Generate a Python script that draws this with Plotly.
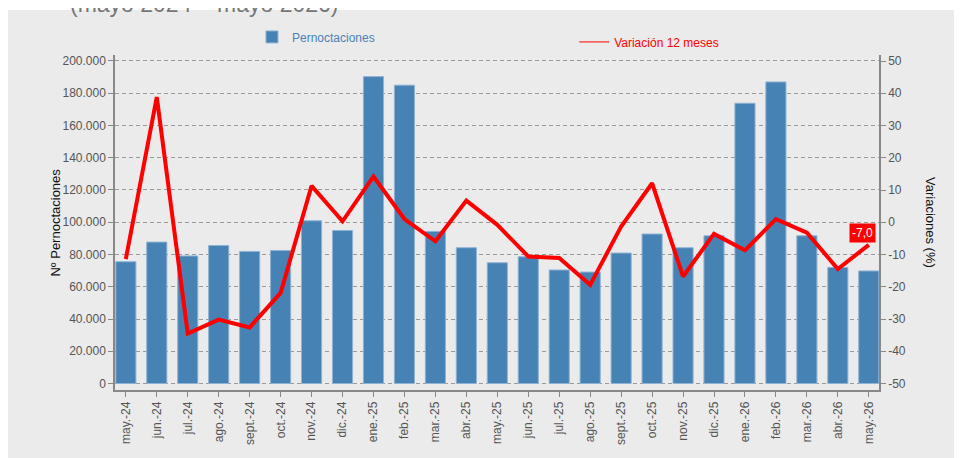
import plotly.graph_objects as go

categories = ["may.-24", "jun.-24", "jul.-24", "ago.-24", "sept.-24", "oct.-24", "nov.-24", "dic.-24",
              "ene.-25", "feb.-25", "mar.-25", "abr.-25", "may.-25", "jun.-25", "jul.-25", "ago.-25",
              "sept.-25", "oct.-25", "nov.-25", "dic.-25", "ene.-26", "feb.-26", "mar.-26", "abr.-26",
              "may.-26"]

pernoctaciones = [75500, 87700, 79100, 85600, 81900, 82500, 100900, 94900,
                  190300, 185000, 94300, 84200, 74900, 78600, 70400, 69100,
                  80900, 92700, 84200, 91600, 173800, 187000, 91600, 72000,
                  69800]

variacion = [-11.4, 38.8, -34.5, -30.2, -32.6, -21.9, 11.3, 0.3,
             14.2, 1.0, -5.9, 6.7, -0.8, -10.6, -11.1, -19.4,
             -1.3, 12.1, -16.8, -3.6, -8.7, 1.0, -3.2, -14.5,
             -7.0]

left_ticks = [0, 20000, 40000, 60000, 80000, 100000, 120000, 140000, 160000, 180000, 200000]
right_ticks = [-50, -40, -30, -20, -10, 0, 10, 20, 30, 40, 50]
right_ticktext = [str(v) for v in right_ticks]

title_text = "(mayo 2024 – mayo 2026)"
font_family = "Liberation Sans, Arial, sans-serif"

fig = go.Figure()
fig.add_trace(go.Bar(
    x=categories, y=pernoctaciones, name="Pernoctaciones",
    marker=dict(color="#4682b4", line=dict(color="#8fb3d4", width=1)),
    width=0.65, legend="legend", yaxis="y", showlegend=True,
))
fig.add_trace(go.Scatter(
    x=categories, y=variacion, name="Variación 12 meses", mode="lines",
    line=dict(color="#ff0000", width=4), yaxis="y2", showlegend=False,
))
# legend entry with a thin line, as in the reference
fig.add_trace(go.Scatter(
    x=[None], y=[None], name="Variación 12 meses", mode="lines",
    line=dict(color="#ff0000", width=1), legend="legend2", yaxis="y2", showlegend=True,
))

last_val = variacion[-1]
fig.add_annotation(
    x=categories[-1], y=last_val, xref="x", yref="y2",
    text=f"{last_val:.1f}".replace(".", ","), showarrow=False,
    font=dict(color="white", size=12, family=font_family),
    bgcolor="#ff0000", borderpad=2, xanchor="center", yanchor="middle",
    xshift=-6, yshift=12,
)

# axis titles
fig.add_annotation(x=-0.0785, y=0.5, xref="paper", yref="paper", text="Nº Pernoctaciones",
                   textangle=-90, showarrow=False, font=dict(size=13, color="#111", family=font_family),
                   xanchor="center", yanchor="middle")
fig.add_annotation(x=1.0674, y=0.5, xref="paper", yref="paper", text="Variaciones (%)",
                   textangle=90, showarrow=False, font=dict(size=13, color="#111", family=font_family),
                   xanchor="center", yanchor="middle")

# partially visible title
fig.add_annotation(x=-0.0614, y=1.106, xref="paper", yref="paper", text=title_text,
                   showarrow=False, font=dict(size=23, color="#777", family=font_family),
                   xanchor="left", yanchor="bottom")

# gray panel
fig.add_shape(type="rect", xref="paper", yref="paper",
              x0=-0.1427, x1=1.0995, y0=-0.25, y1=1.1343,
              fillcolor="#ebebeb", line=dict(width=0), layer="below")

axis_font = dict(size=12, color="#555", family=font_family)

fig.update_layout(
    width=954, height=450,
    margin=dict(l=107, r=83, t=47, b=68),
    paper_bgcolor="white", plot_bgcolor="#ebebeb",
    separators=",.",
    font=dict(family=font_family),
    showlegend=True,
    xaxis=dict(
        type="category", range=[-0.35, 24.33], tickangle=-90,
        showline=True, linecolor="#888", linewidth=1.5,
        ticks="outside", ticklen=5, tickcolor="#888", tickfont=axis_font,
        showgrid=False, zeroline=False,
    ),
    yaxis=dict(
        range=[-4025, 203700], tickvals=left_ticks, tickformat=",.0f",
        showline=True, linecolor="#888", linewidth=1.5,
        ticks="outside", ticklen=5, tickcolor="#888", tickfont=axis_font,
        showgrid=True, gridcolor="#9a9a9a", gridwidth=1, griddash="4px,3px",
        zeroline=False,
    ),
    yaxis2=dict(
        overlaying="y", side="right", range=[-52.0, 51.86],
        tickvals=right_ticks, ticktext=right_ticktext,
        showline=True, linecolor="#888", linewidth=1.5,
        ticks="outside", ticklen=5, tickcolor="#888", tickfont=axis_font,
        showgrid=False, zeroline=False,
    ),
    legend=dict(x=0.1793, y=1.054, xanchor="left", yanchor="middle", orientation="h",
                itemwidth=30,
                bgcolor="rgba(0,0,0,0)", font=dict(size=12, color="#4a82b8", family=font_family)),
    legend2=dict(x=0.601, y=1.039, xanchor="left", yanchor="middle", orientation="h",
                 bgcolor="rgba(0,0,0,0)", font=dict(size=12, color="#ff0000", family=font_family)),
)

fig.write_html("out.html")
